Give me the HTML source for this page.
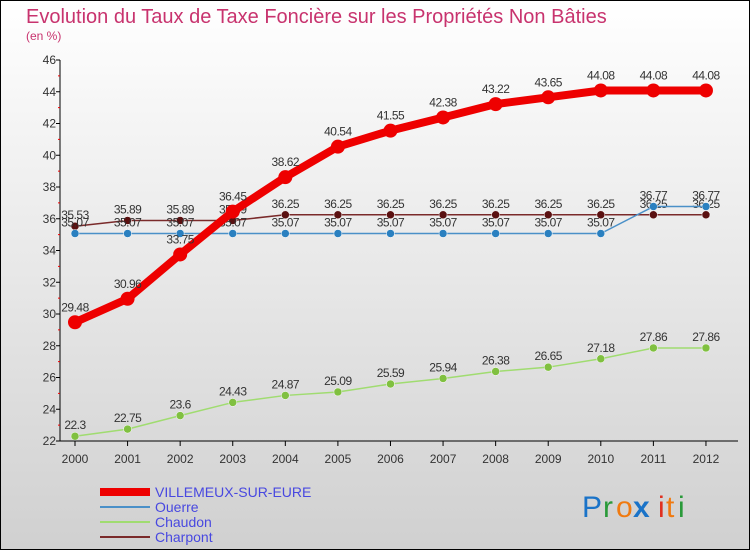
<!DOCTYPE html>
<html><head><meta charset="utf-8"><style>
html,body{margin:0;padding:0}
body{width:750px;height:550px;overflow:hidden;font-family:"Liberation Sans",sans-serif}
</style></head><body>
<svg width="750" height="550" xmlns="http://www.w3.org/2000/svg">
<defs><linearGradient id="bg" x1="0" y1="0" x2="0" y2="1"><stop offset="0" stop-color="#ffffff"/><stop offset="1" stop-color="#d0d0d0"/></linearGradient></defs>
<rect x="0.5" y="0.5" width="749" height="549" fill="url(#bg)" stroke="#000"/>
<text x="26" y="23" font-size="20" fill="#c8336e">Evolution du Taux de Taxe Foncière sur les Propriétés Non Bâties</text>
<text x="26" y="40" font-size="12" fill="#c8336e">(en %)</text>
<g id="grid"></g><g id="axes"></g><g id="series"></g><g id="legend"></g>
<g font-size="30" font-family="'Liberation Sans',sans-serif">
<text x="582" y="517" fill="#1a73c8">P</text><text x="603" y="517" fill="#2a9a3a">r</text><text x="616" y="517" fill="#f07a10">o</text><text x="633" y="517" fill="#1a73c8" font-weight="bold">x</text><text x="658" y="517" fill="#e03020">i</text><text x="666" y="517" fill="#f07a10">t</text><text x="678" y="517" fill="#2a9a3a">i</text>
</g>
</svg>
<script>
const years=["2000","2001","2002","2003","2004","2005","2006","2007","2008","2009","2010","2011","2012"];
const yTicks=[22,24,26,28,30,32,34,36,38,40,42,44,46];
const villemeux=[29.48,30.96,33.75,36.45,38.62,40.54,41.55,42.38,43.22,43.65,44.08,44.08,44.08];
const ouerre=[35.07,35.07,35.07,35.07,35.07,35.07,35.07,35.07,35.07,35.07,35.07,36.77,36.77];
const chaudon=[22.3,22.75,23.6,24.43,24.87,25.09,25.59,25.94,26.38,26.65,27.18,27.86,27.86];
const charpont=[35.53,35.89,35.89,35.89,36.25,36.25,36.25,36.25,36.25,36.25,36.25,36.25,36.25];
const NS="http://www.w3.org/2000/svg";
const X=i=>75+i*52.58, Y=v=>441-(v-22)*15.875;
function mk(tag,attrs,parent,text){const e=document.createElementNS(NS,tag);for(const k in attrs)e.setAttribute(k,attrs[k]);if(text!==undefined)e.textContent=text;parent.appendChild(e);return e;}
const axes=document.getElementById('axes');
let a=mk('line',{x1:60,y1:60,x2:60,y2:441,stroke:'#000'},axes);


a=mk('line',{x1:60,y1:441,x2:738,y2:441,stroke:'#000'},axes);


yTicks.forEach(v=>{
  const t=mk('text',{x:56,y:Y(v)+4,'font-size':12,fill:'#333','text-anchor':'end'},axes,String(v));
  
  
  mk('line',{x1:56,y1:Y(v),x2:60,y2:Y(v),stroke:'#000'},axes);
  if(v<46)mk('line',{x1:58,y1:Y(v+1),x2:60,y2:Y(v+1),stroke:'#e00'},axes);
});
years.forEach((y,i)=>{
  const t=mk('text',{x:X(i),y:463,'font-size':12,fill:'#333','text-anchor':'middle'},axes,y);
  
  
  mk('line',{x1:X(i),y1:441,x2:X(i),y2:446,stroke:'#000'},axes);
});
const series=[
 {name:'Charpont',data:charpont,color:'#7a2a2a',dot:'#5a1010',w:1.5,r:4,dy:-7},
 {name:'Ouerre',data:ouerre,color:'#4a90c8',dot:'#2a80c0',w:1.5,r:4,dy:-7},
 {name:'Chaudon',data:chaudon,color:'#a0dc70',dot:'#80c040',w:1.5,r:4,dy:-7},
 {name:'VILLEMEUX-SUR-EURE',data:villemeux,color:'#ee0000',dot:'#ee0000',w:8,r:7,dy:-11}
];
const sg=document.getElementById('series');
series.forEach(s=>{
  const g=mk('g',{},sg);
  
  
  const p=mk('polyline',{points:s.data.map((v,i)=>X(i)+','+Y(v)).join(' '),fill:'none',stroke:s.color,'stroke-width':s.w,'stroke-linejoin':'round'},g);
  
  
  s.data.forEach((v,i)=>{
    const c=mk('circle',{cx:X(i),cy:Y(v),r:s.r,fill:s.dot,stroke:s.w>2?'none':'#fff','stroke-width':0.5},g);
    
    
    const t=mk('text',{x:X(i),y:Y(v)+s.dy,'font-size':12,fill:'#333','text-anchor':'middle','letter-spacing':'-0.5'},g,String(v));
    
    
  });
});
const lg=document.getElementById('legend');
const leg=[['VILLEMEUX-SUR-EURE','#ee0000',8],['Ouerre','#4a90c8',2],['Chaudon','#a0dc70',2],['Charpont','#7a2a2a',2]];
leg.forEach((l,i)=>{
  const y=492+i*15;
  const g=mk('g',{},lg);
  
  
  mk('line',{x1:100,y1:y,x2:150,y2:y,stroke:l[1],'stroke-width':l[2]},g);
  mk('text',{x:155,y:y+5,'font-size':14,fill:'#4848e0'},g,l[0]);
});
</script>
</body></html>
